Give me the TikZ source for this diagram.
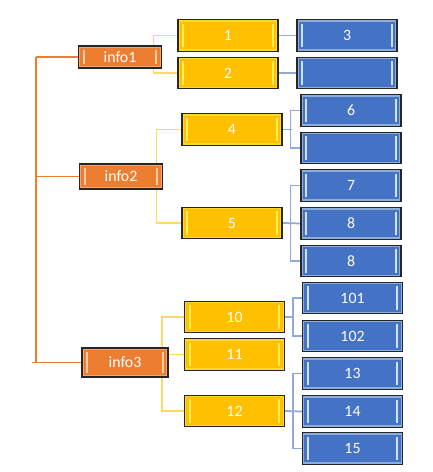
\documentclass[tikz,border=0pt]{standalone}
\usepackage{fontspec}
\setmainfont{Carlito}
\usetikzlibrary{backgrounds}
\definecolor{infoorange}{HTML}{ED7D31}
\definecolor{midyellow}{HTML}{FFC000}
\definecolor{leafblue}{HTML}{4472C4}
\definecolor{linkyellow}{HTML}{FFD966}
\definecolor{linkblue}{HTML}{8FAADC}
\begin{document}
\begin{tikzpicture}[
    x=0.02cm, y=-0.02cm,
    bevel/.style={path picture={
        \draw[#1, line width=0.6pt, opacity=0.45]
            ([shift={(0.7pt,0.7pt)}]path picture bounding box.south west) rectangle
            ([shift={(-0.7pt,-0.7pt)}]path picture bounding box.north east);
        \draw[#1, line width=1pt, opacity=0.85]
            ([shift={(3pt,2.2pt)}]path picture bounding box.south west) --
            ([shift={(3pt,-2.2pt)}]path picture bounding box.north west);
        \draw[#1, line width=1pt, opacity=0.85]
            ([shift={(-3pt,2.2pt)}]path picture bounding box.south east) --
            ([shift={(-3pt,-2.2pt)}]path picture bounding box.north east);
    }},
    box/.style={draw=black!85, line width=0.6pt, inner sep=0pt, text=white,
        font=\fontsize{9}{10}\selectfont},
    info/.style={box, fill=infoorange, minimum width=1.66cm, bevel=orange!30},
    mid/.style={box, fill=midyellow, minimum width=2cm, minimum height=0.63cm, bevel=yellow!60},
    leaf/.style={box, fill=leafblue, minimum width=2cm, minimum height=0.63cm, bevel=cyan!10},
    oline/.style={infoorange, line width=0.7pt},
    yline/.style={linkyellow, line width=0.8pt},
    bline/.style={linkblue, line width=1pt}
]
\useasboundingbox (0,0) rectangle (432,472);

% top level
\node[info, minimum height=0.44cm] (info1) at (120,57) {info1};
\node[info, minimum height=0.50cm] (info2) at (121,176.5) {info2};
\node[info, minimum height=0.58cm, minimum width=1.72cm] (info3) at (125,362.5) {info3};

% second level
\node[mid] (n1) at (228,35.5) {1};
\node[mid] (n2) at (228,73) {2};
\node[mid] (n4) at (232,129.5) {4};
\node[mid] (n5) at (232,223) {5};
\node[mid] (n10) at (234.5,317) {10};
\node[mid] (n11) at (234.5,354.5) {11};
\node[mid] (n12) at (234.5,411) {12};

% leaves
\node[leaf] (n3) at (347,35.5) {3};
\node[leaf] (n3b) at (347,73) {};
\node[leaf] (n6) at (351,110.5) {6};
\node[leaf] (n6b) at (351,148) {};
\node[leaf] (n7) at (351,185.5) {7};
\node[leaf] (n8a) at (351,223.5) {8};
\node[leaf] (n8b) at (351,261) {8};
\node[leaf] (n101) at (352.5,298) {101};
\node[leaf] (n102) at (352.5,336) {102};
\node[leaf] (n13) at (352.5,373.5) {13};
\node[leaf] (n14) at (352.5,411.5) {14};
\node[leaf] (n15) at (352.5,448.5) {15};

\begin{scope}[on background layer]
% orange spine
\draw[oline] (info1.west) -- ++(-42,0) coordinate (spine);
\draw[oline] (spine) -- (spine |- info3.west);
\draw[oline] (info2.west) -- (info2.west -| spine);
\draw[oline] ([shift={(-49,0)}]info3.west) -- (info3.west);

% yellow links
\draw[yline] (n1.west) -- ++(-24,0) |- (n2.west);
\draw[yline] (n4.west) -- ++(-25,0) |- (n5.west);
\draw[yline] (n10.west) -- ++(-22,0) |- (n12.west);
\draw[yline] (n11.west) -- ++(-22,0);

% blue links
\draw[bline] (n1.east) -- (n3.west);
\draw[bline] (n2.east) -- (n3b.west);
\draw[bline] (n4.east) -- ++(9,0);
\draw[bline] (n6.west) -- ++(-10,0) |- (n6b.west);
\draw[bline] (n7.west) -- ++(-10,0) |- (n8b.west);
\draw[bline] (n5.east) -- (n8a.west);
\draw[bline] (n10.east) -- ++(8,0);
\draw[bline] (n101.west) -- ++(-9,0) |- (n102.west);
\draw[bline] (n13.west) -- ++(-9,0) |- (n15.west);
\draw[bline] (n12.east) -- (n14.west);
\end{scope}

\end{tikzpicture}
\end{document}
